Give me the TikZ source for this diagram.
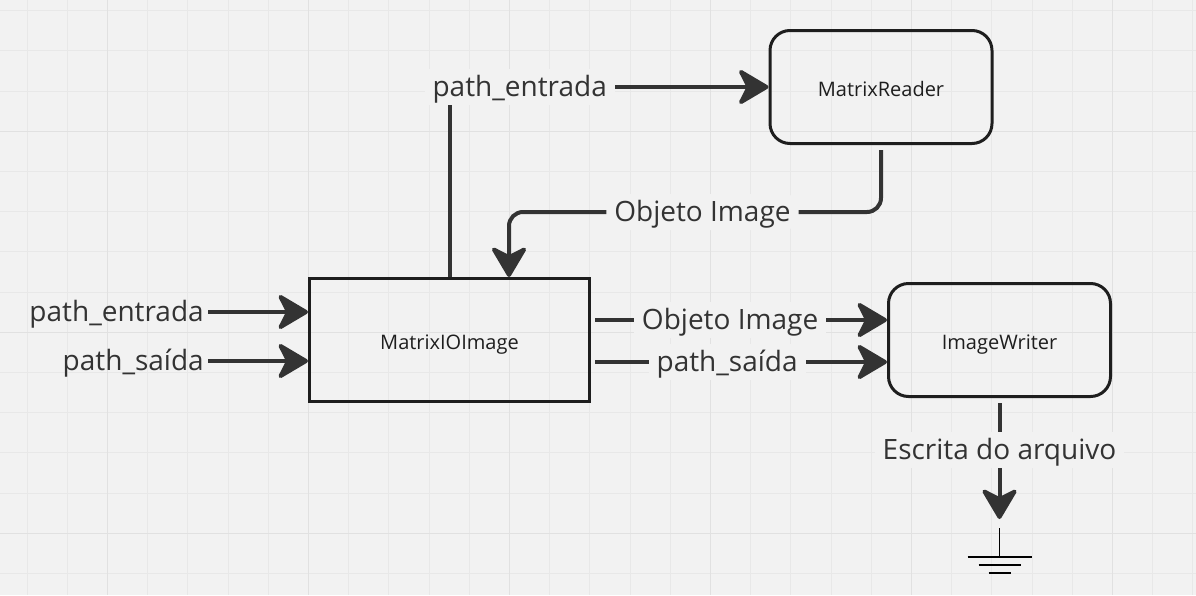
\documentclass[tikz,border=0pt]{standalone}
\usepackage{fontspec}
\setmainfont{Open Sans}
\usepackage{xcolor}
\usepackage{tikz}
\usetikzlibrary{arrows.meta,positioning}

\definecolor{canvas}{HTML}{F2F2F2}
\definecolor{minorgrid}{HTML}{E8E8E8}
\definecolor{majorgrid}{HTML}{E1E1E1}
\definecolor{wire}{HTML}{333333}
\definecolor{frame}{HTML}{1E1E1E}
\newcommand{\edgetext}{\fontsize{28}{34}\selectfont}
\newcommand{\boxtext}{\fontsize{20}{24}\selectfont}

\begin{document}
\begin{tikzpicture}[x=1pt, y=-1pt]
    \tikzstyle{box} = [draw=frame, line width=3pt, text=frame, font=\boxtext, text height=18pt, text depth=0pt]
    \tikzstyle{rbox} = [box, rounded corners=20pt, minimum width=222pt, minimum height=113pt]
    \tikzstyle{flow} = [draw=wire, line width=4pt, arrows={-Stealth[length=34pt, width=40pt, inset=10pt, round]}]
    \tikzstyle{lbl} = [fill=canvas, text=wire, font=\edgetext, text height=21pt, text depth=3pt, inner xsep=8pt, inner ysep=6pt]
    \tikzstyle{txt} = [text=wire, font=\edgetext, text height=21pt, text depth=3pt, inner sep=4pt]
    \tikzstyle{earth} = [draw=black, line width=1.7pt]

    \useasboundingbox (0,0) rectangle (1196,595);
    \fill[canvas] (0,0) rectangle (1196,595);
    \foreach \i in {0,...,29}
        \draw[minorgrid, line width=1pt] ({27+40.2*\i},0) -- ++(0,595);
    \foreach \j in {0,...,14}
        \draw[minorgrid, line width=1pt] (0,{10.7+40.2*\j}) -- ++(1196,0);
    \foreach \i in {2,7,...,27}
        \draw[majorgrid, line width=1.5pt] ({27+40.2*\i},0) -- ++(0,595);
    \foreach \j in {3,8,13}
        \draw[majorgrid, line width=1.5pt] (0,{10.7+40.2*\j}) -- ++(1196,0);

    \node[box, minimum width=280pt, minimum height=123pt] (mio) at (449.5,340) {MatrixIOImage};
    \node[rbox] (mr) at (881,87) {MatrixReader};
    \node[rbox, right=296pt of mio] (iw) {ImageWriter};

    \node[txt, anchor=east] (inE) at (208,312) {path\_entrada};
    \node[txt, anchor=east] (inS) at (208,361) {path\_saída};
    \draw[flow] (inE) -- (inE -| mio.west);
    \draw[flow] (inS) -- (inS -| mio.west);

    \draw[flow] (mio.north) |- node[lbl, pos=0.61] {path\_entrada} (mr.west);
    \coordinate (bend) at (509,212);
    \draw[flow, rounded corners=14pt, shorten <=5pt] (mr.south) |- node[lbl, pos=0.74] {Objeto Image} (bend) -- (bend |- mio.north);

    \draw[flow, shorten <=4pt] ([yshift=20pt]mio.east) -- node[lbl, pos=0.47] {Objeto Image} ([yshift=20pt]mio.east -| iw.west);
    \draw[flow, shorten <=4pt] ([yshift=-22pt]mio.east) -- node[lbl, pos=0.46] {path\_saída} ([yshift=-22pt]mio.east -| iw.west);

    \coordinate[below=121pt of iw.south] (sink);
    \draw[flow, shorten <=5pt] (iw.south) -- node[lbl, pos=0.43] {Escrita do arquivo} (sink);
    \coordinate[below=9pt of sink] (gnd);
    \draw[earth] (gnd) -- ++(0,29) ++(-32,0) -- ++(64,0) ++(-53,8) -- ++(42,0) ++(-32,8) -- ++(22,0);
\end{tikzpicture}
\end{document}
